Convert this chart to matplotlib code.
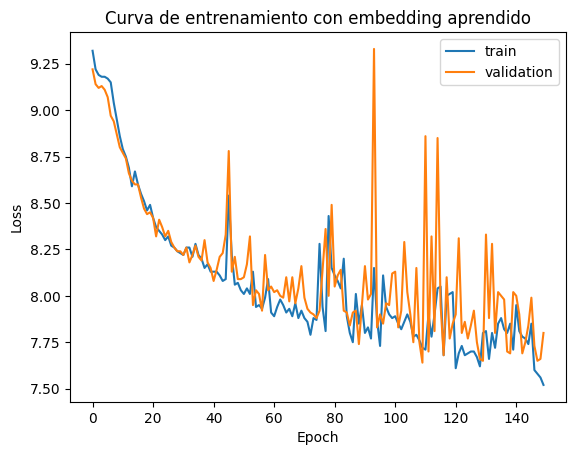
import numpy as np
import matplotlib
matplotlib.use('Agg')
import matplotlib.pyplot as plt

# loss per epoch
train_loss = [9.32, 9.22, 9.19, 9.18, 9.18, 9.17, 9.15, 9.04, 8.95, 8.86,
              8.79, 8.75, 8.69, 8.59, 8.67, 8.60, 8.55, 8.51, 8.46, 8.49,
              8.42, 8.37, 8.35, 8.33, 8.30, 8.32, 8.27, 8.26, 8.24, 8.23,
              8.22, 8.26, 8.26, 8.21, 8.28, 8.22, 8.20, 8.15, 8.17, 8.13,
              8.13, 8.13, 8.11, 8.08, 8.09, 8.54, 8.22, 8.06, 8.07, 8.03,
              8.01, 8.04, 8.01, 8.13, 7.94, 7.95, 7.93, 7.99, 8.09, 7.91,
              7.89, 7.94, 7.98, 7.95, 7.91, 7.93, 7.89, 7.96, 7.88, 7.92,
              7.88, 7.86, 7.79, 7.88, 7.87, 8.28, 7.94, 7.81, 8.43, 8.15,
              8.11, 8.08, 8.04, 8.20, 7.89, 7.80, 7.75, 8.01, 7.85, 7.95,
              7.80, 7.83, 7.77, 8.15, 7.87, 7.73, 8.11, 7.94, 7.90, 7.88,
              7.89, 7.85, 7.82, 7.86, 7.90, 7.86, 7.78, 7.79, 7.76, 7.72,
              7.71, 7.90, 7.78, 7.90, 8.04, 8.05, 7.68, 8.00, 8.01, 8.02,
              7.61, 7.69, 7.73, 7.68, 7.69, 7.70, 7.70, 7.67, 7.62, 7.80,
              7.81, 7.66, 7.80, 7.72, 7.85, 7.88, 7.82, 7.80, 7.85, 7.71,
              7.95, 7.81, 7.78, 7.77, 7.74, 7.85, 7.60, 7.58, 7.56, 7.52]

val_loss = [9.22, 9.14, 9.12, 9.13, 9.11, 9.07, 8.97, 8.94, 8.87, 8.80,
            8.77, 8.74, 8.66, 8.62, 8.60, 8.60, 8.53, 8.47, 8.44, 8.45,
            8.42, 8.32, 8.41, 8.37, 8.32, 8.35, 8.29, 8.26, 8.24, 8.24,
            8.22, 8.26, 8.18, 8.22, 8.27, 8.21, 8.19, 8.30, 8.18, 8.15,
            8.08, 8.14, 8.21, 8.23, 8.33, 8.78, 8.13, 8.21, 8.09, 8.09,
            8.10, 8.17, 8.32, 7.95, 8.03, 8.01, 7.92, 8.22, 8.03, 8.05,
            8.02, 8.03, 8.00, 7.99, 8.10, 7.97, 8.10, 7.96, 8.04, 8.16,
            7.99, 7.93, 7.91, 7.90, 7.88, 7.92, 8.14, 8.36, 8.00, 8.49,
            8.05, 8.11, 8.14, 7.92, 7.91, 7.84, 7.91, 7.92, 7.74, 7.95,
            8.16, 7.98, 8.01, 9.33, 7.83, 7.90, 7.85, 7.96, 7.95, 8.12,
            8.13, 7.83, 7.92, 8.29, 8.02, 7.90, 7.75, 8.15, 7.75, 7.64,
            8.86, 7.70, 8.32, 7.81, 8.85, 7.95, 7.68, 8.10, 7.77, 7.85,
            7.90, 8.31, 7.80, 7.86, 7.77, 7.84, 7.92, 7.75, 7.66, 7.65,
            8.33, 7.88, 8.28, 7.80, 8.02, 8.00, 7.98, 7.70, 7.69, 8.02,
            8.00, 7.90, 7.69, 7.75, 7.84, 7.99, 7.73, 7.65, 7.66, 7.80]

epochs = np.arange(len(train_loss))

fig, ax = plt.subplots(figsize=(6.4, 4.8), dpi=100)
ax.plot(epochs, train_loss, label='train')
ax.plot(epochs, val_loss, label='validation')
ax.set_title('Curva de entrenamiento con embedding aprendido')
ax.set_xlabel('Epoch')
ax.set_ylabel('Loss')
ax.legend()

fig.savefig('out.png', bbox_inches='tight')
